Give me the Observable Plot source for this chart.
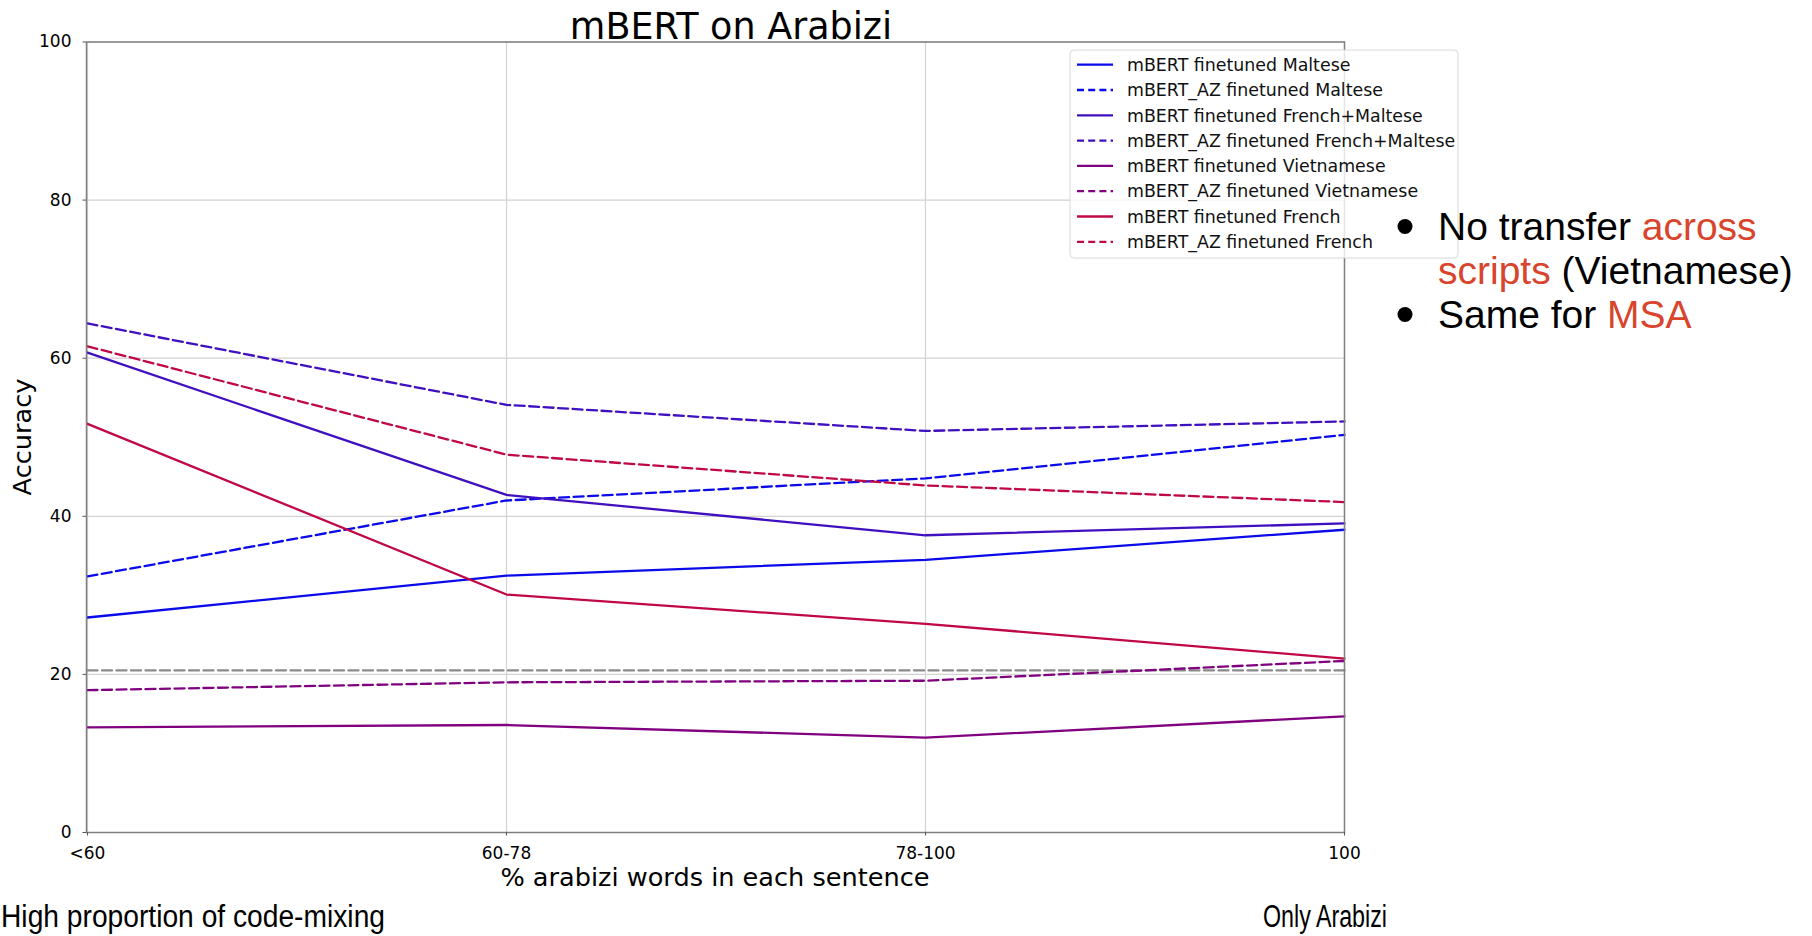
<!DOCTYPE html>
<html><head><meta charset="utf-8">
<script src="https://cdn.jsdelivr.net/npm/d3@7"></script>
<script src="https://cdn.jsdelivr.net/npm/@observablehq/plot@0.6"></script>
<style>
html,body{margin:0;padding:0;background:#fff;width:1812px;height:936px;overflow:hidden;}
#root{position:relative;width:1812px;height:936px;}
#root svg{position:absolute;left:0;top:0;}
</style></head><body><div id="root"></div>
<script>
// ---- data ----
const categories = ["<60", "60-78", "78-100", "100"];
const yTicks = [0, 20, 40, 60, 80, 100];
const seriesNames = [
  "mBERT finetuned Maltese",
  "mBERT_AZ finetuned Maltese",
  "mBERT finetuned French+Maltese",
  "mBERT_AZ finetuned French+Maltese",
  "mBERT finetuned Vietnamese",
  "mBERT_AZ finetuned Vietnamese",
  "mBERT finetuned French",
  "mBERT_AZ finetuned French"
];
const seriesColors = ["#0a0aea", "#0a0aea", "#4010c0", "#4010c0", "#800080", "#800080", "#c00844", "#c00844"];
const seriesDashed = [false, true, false, true, false, true, false, true];
const maltese          = [27.2, 32.5, 34.5, 38.3];
const maltese_az       = [32.4, 42.0, 44.8, 50.3];
const frenchMaltese    = [60.7, 42.7, 37.6, 39.1];
const frenchMaltese_az = [64.4, 54.1, 50.8, 52.0];
const vietnamese       = [13.3, 13.6, 12.0, 14.7];
const vietnamese_az    = [18.0, 19.0, 19.2, 21.7];
const french           = [51.7, 30.1, 26.4, 22.0];
const french_az        = [61.5, 47.8, 43.9, 41.8];
const baselineValues   = [20.5, 20.5, 20.5, 20.5];
const seriesValues = [maltese, maltese_az, frenchMaltese, frenchMaltese_az, vietnamese, vietnamese_az, french, french_az];

const titleText = "mBERT on Arabizi";
const xLabel = "% arabizi words in each sentence";
const yLabel = "Accuracy";
const leftCaption = "High proportion of code-mixing";
const rightCaption = "Only Arabizi";
const bullets = [
  [["No transfer", false], ["across", true]],
  [["scripts", true], ["(Vietnamese)", false]],
  [["Same for", false], ["MSA", true]]
];

// ---- chart ----
const W = 1812, H = 936;
const DASH = "10,4.5";
const toRows = vals => vals.map((v, j) => ({cat: categories[j], value: v}));

const lineMarks = [
  Plot.line(toRows(baselineValues), {x: "cat", y: "value", stroke: "#8a8a8a", strokeWidth: 2.3, strokeDasharray: DASH})
];
seriesValues.forEach((vals, i) => {
  lineMarks.push(Plot.line(toRows(vals), {
    x: "cat", y: "value", stroke: seriesColors[i], strokeWidth: 2.3,
    strokeDasharray: seriesDashed[i] ? DASH : null
  }));
});

const chart = Plot.plot({
  width: W, height: H,
  marginLeft: 86, marginRight: 468, marginTop: 41.5, marginBottom: 104,
  x: {type: "point", domain: categories, padding: 0, label: null},
  y: {domain: [0, 100], label: null},
  style: {fontFamily: "'DejaVu Sans', sans-serif", fontSize: "17px", color: "#000", background: "transparent", overflow: "visible"},
  marks: [
    Plot.gridX(categories, {stroke: "#d2d2d2", strokeOpacity: 1, strokeWidth: 1.2}),
    Plot.gridY(yTicks, {stroke: "#d2d2d2", strokeOpacity: 1, strokeWidth: 1.2}),
    ...lineMarks,
    Plot.frame({stroke: "#808080", strokeWidth: 1.5}),
    Plot.axisX({tickSize: 3.5, tickPadding: 11, fontSize: 17, label: null, stroke: "#555"}),
    Plot.axisY({ticks: yTicks, tickSize: 3.5, tickPadding: 11.5, fontSize: 17, label: null, stroke: "#555"})
  ]
});
document.getElementById("root").appendChild(chart);

// ---- overlay: title, axis labels, legend, notes ----
const ov = d3.select("#root").append("svg")
  .attr("width", W).attr("height", H)
  .style("font-family", "'DejaVu Sans', sans-serif");

ov.append("text").attr("x", 731).attr("y", 38.5).attr("text-anchor", "middle")
  .attr("font-size", 36.5).attr("fill", "#000").text(titleText);
ov.append("text").attr("x", 715).attr("y", 886).attr("text-anchor", "middle")
  .attr("font-size", 25.6).attr("fill", "#000").text(xLabel);
ov.append("text").attr("transform", "translate(31,437) rotate(-90)").attr("text-anchor", "middle")
  .attr("font-size", 25.6).attr("fill", "#000").text(yLabel);

// legend
const lg = ov.append("g");
lg.append("rect").attr("x", 1070).attr("y", 50).attr("width", 388).attr("height", 208)
  .attr("rx", 4).attr("fill", "#fff").attr("fill-opacity", 0.8).attr("stroke", "#d8d8d8").attr("stroke-width", 1);
seriesNames.forEach((name, i) => {
  const cy = 64.7 + i * 25.3;
  lg.append("line").attr("x1", 1077).attr("x2", 1113).attr("y1", cy).attr("y2", cy)
    .attr("stroke", seriesColors[i]).attr("stroke-width", 2.3)
    .attr("stroke-dasharray", seriesDashed[i] ? "7,4.2" : null);
  lg.append("text").attr("x", 1127).attr("y", cy).attr("dy", "0.36em")
    .attr("font-size", 17.4).attr("fill", "#111").text(name);
});

// bullets (each coloured run is its own text, placed after the previous one)
const RED = "#d8442c";
const bulletFont = "'Liberation Sans', Arial, sans-serif";
const lineBaselines = [240, 284, 328];
const dotLines = [0, 2];
dotLines.forEach(li => {
  ov.append("circle").attr("cx", 1405).attr("cy", lineBaselines[li] - 13.5).attr("r", 7.5).attr("fill", "#000");
});
const FS = 39, SPACE = 0.278 * FS;
bullets.forEach((parts, li) => {
  let x = 1438;
  parts.forEach(([s, red], k) => {
    if (k > 0) x += SPACE;
    const t = ov.append("text").attr("x", x).attr("y", lineBaselines[li])
      .attr("font-family", bulletFont).attr("font-size", FS)
      .attr("fill", red ? RED : "#000").text(s);
    x += t.node().getComputedTextLength();
  });
});

// bottom captions
ov.append("text").attr("x", 1).attr("y", 927).attr("font-family", bulletFont)
  .attr("font-size", 31).attr("fill", "#000")
  .attr("textLength", 384).attr("lengthAdjust", "spacingAndGlyphs").text(leftCaption);
ov.append("text").attr("x", 1263).attr("y", 927).attr("font-family", bulletFont)
  .attr("font-size", 31).attr("fill", "#000")
  .attr("textLength", 124).attr("lengthAdjust", "spacingAndGlyphs").text(rightCaption);
</script>
</body></html>
